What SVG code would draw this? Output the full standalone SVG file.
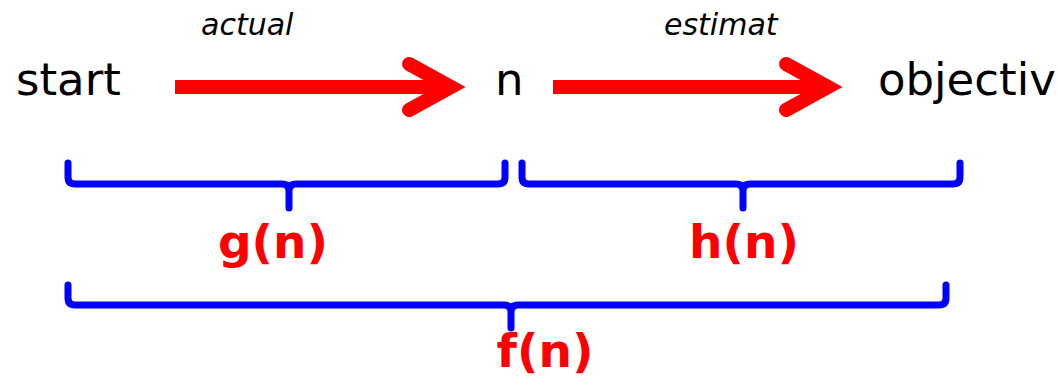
<svg xmlns="http://www.w3.org/2000/svg" width="1058" height="380" viewBox="0 0 1058 380">
<style>
.t{font-family:"DejaVu Sans",Verdana,sans-serif;fill:#000}
.node{font-size:45px}
.edge{font-size:30px;font-style:italic}
.lbl{font-family:"DejaVu Sans",Verdana,sans-serif;font-size:47px;font-weight:bold;fill:#ff0000;text-anchor:middle}
.shaft{stroke:#ff0000;stroke-width:14;fill:none}
.head{stroke:#ff0000;stroke-width:14;fill:none;stroke-linecap:round;stroke-linejoin:miter}
.brace{stroke:#0000ff;stroke-width:7;fill:none;stroke-linecap:round;stroke-linejoin:round}
</style>
<rect width="1058" height="380" fill="#fff"/>
<g id="node-start"><text class="t node" x="16" y="95">start</text></g>
<g id="node-n"><text class="t node" x="495" y="95">n</text></g>
<g id="node-objectiv"><text class="t node" x="878" y="95">objectiv</text></g>
<g id="connectors">
<line class="shaft" x1="175" y1="87" x2="452" y2="87"/>
<polyline class="head" points="409,64 451,87 409,110"/>
<text class="t edge" x="201" y="35">actual</text>
<line class="shaft" x1="553" y1="87" x2="830" y2="87"/>
<polyline class="head" points="786,64 828,87 786,110"/>
<text class="t edge" x="664" y="35">estimat</text>
</g>
<g id="brace-g">
<path class="brace" d="M68,163 V177 Q68,184 75,184 H282 Q289,184 289,191 V208 M289,191 Q289,184 296,184 H498 Q505,184 505,177 V163"/>
<text class="lbl" x="273" y="258">g(n)</text>
</g>
<g id="brace-h">
<path class="brace" d="M522,163 V177 Q522,184 529,184 H736 Q743,184 743,191 V208 M743,191 Q743,184 750,184 H953 Q960,184 960,177 V163"/>
<text class="lbl" x="744" y="258">h(n)</text>
</g>
<g id="brace-f">
<path class="brace" d="M68,285 V298 Q68,305 75,305 H504 Q511,305 511,312 V328 M511,312 Q511,305 518,305 H939 Q946,305 946,298 V285"/>
<text class="lbl" x="545" y="367">f(n)</text>
</g>
</svg>
